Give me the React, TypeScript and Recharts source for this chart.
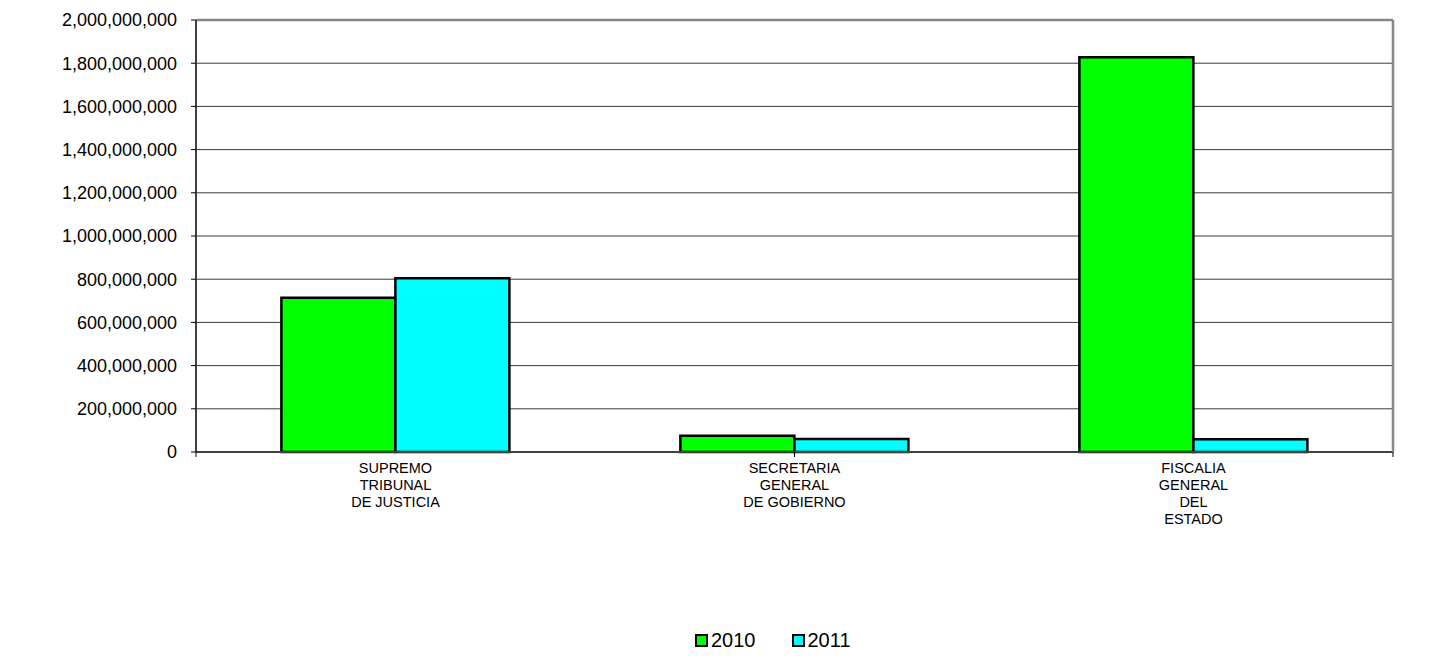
import React from "react";
import {
  BarChart,
  Bar,
  XAxis,
  YAxis,
  CartesianGrid,
  Legend,
  ReferenceLine,
} from "recharts";

const categories = [
  "SUPREMO\nTRIBUNAL\nDE JUSTICIA",
  "SECRETARIA\nGENERAL\nDE GOBIERNO",
  "FISCALIA\nGENERAL\nDEL\nESTADO",
];
const values2010 = [714000000, 75000000, 1827000000];
const values2011 = [804000000, 60000000, 59000000];
const yTicks = [0, 200000000, 400000000, 600000000, 800000000, 1000000000, 1200000000, 1400000000, 1600000000, 1800000000, 2000000000];
const boundaryTicks = [0, 1, 2, 3];

const data = categories.map((c, i) => ({
  name: c,
  y2010: values2010[i],
  y2011: values2011[i],
}));

const FONT = "'Liberation Sans', Arial, sans-serif";

const XTick = (props: any) => {
  const { x, y, payload } = props;
  const lines = String(payload.value).split("\n");
  return (
    <text x={x} y={y} textAnchor="middle" fontFamily={FONT} fontSize={14.5} fill="#000">
      {lines.map((l, i) => (
        <tspan key={i} x={x} dy={i === 0 ? 12 : 17}>
          {l}
        </tspan>
      ))}
    </text>
  );
};

const EmptyTick = () => <g />;

const LegendContent = (props: any) => {
  const { payload } = props;
  return (
    <div style={{ display: "flex", alignItems: "center", fontFamily: FONT, fontSize: 20, color: "#000" }}>
      {(payload || []).map((p: any, i: number) => (
        <div key={i} style={{ display: "flex", alignItems: "center", marginRight: i === 0 ? 36 : 0 }}>
          <span
            style={{
              display: "inline-block",
              width: 9,
              height: 9,
              background: p.color,
              border: "2px solid #000",
              marginRight: 3,
            }}
          />
          <span>{p.value}</span>
        </div>
      ))}
    </div>
  );
};

export default function App() {
  return (
    <div style={{ position: "relative", margin: -8, width: 1437, height: 659, background: "#fff" }}>
      <div style={{ position: "absolute", left: 5, top: 0, width: 2, height: 659, background: "#222" }} />
      <BarChart
        width={1437}
        height={659}
        data={data}
        margin={{ top: 20, right: 43, left: 6, bottom: 106 }}
        barCategoryGap="21.4%"
        barGap={0}
      >
        <CartesianGrid horizontal vertical={false} stroke="#3a3a3a" strokeWidth={1} xAxisId="cat" />
        <XAxis
          xAxisId={0}
          type="number"
          domain={[0, 3]}
          ticks={boundaryTicks}
          interval={0}
          height={1}
          tick={<EmptyTick />}
          tickSize={5}
          tickLine={{ stroke: "#000", strokeWidth: 1 }}
          axisLine={{ stroke: "#404040", strokeWidth: 2 }}
        />
        <XAxis
          xAxisId="cat"
          dataKey="name"
          height={100}
          interval={0}
          tickLine={false}
          axisLine={false}
          tick={<XTick />}
        />
        <YAxis
          width={190}
          domain={[0, 2000000000]}
          ticks={yTicks}
          interval={0}
          tickSize={5}
          tickMargin={14}
          tickLine={{ stroke: "#000" }}
          axisLine={{ stroke: "#404040", strokeWidth: 2 }}
          tick={{ fontFamily: FONT, fontSize: 18, fill: "#000" }}
          tickFormatter={(v: number) => v.toLocaleString("en-US")}
        />
        <YAxis
          yAxisId="r"
          orientation="right"
          width={1}
          tick={false}
          tickLine={false}
          axisLine={{ stroke: "#888", strokeWidth: 2.5 }}
        />
        <ReferenceLine y={2000000000} stroke="#888" strokeWidth={2.5} xAxisId="cat" />
        <Legend
          verticalAlign="middle"
          align="center"
          layout="horizontal"
          wrapperStyle={{ top: 629, left: 695, width: "auto" }}
          content={<LegendContent />}
        />
        <Bar xAxisId="cat" dataKey="y2010" name="2010" fill="#00ff00" stroke="#000" strokeWidth={2.5} isAnimationActive={false} />
        <Bar xAxisId="cat" dataKey="y2011" name="2011" fill="#00ffff" stroke="#000" strokeWidth={2.5} isAnimationActive={false} />
      </BarChart>
    </div>
  );
}
